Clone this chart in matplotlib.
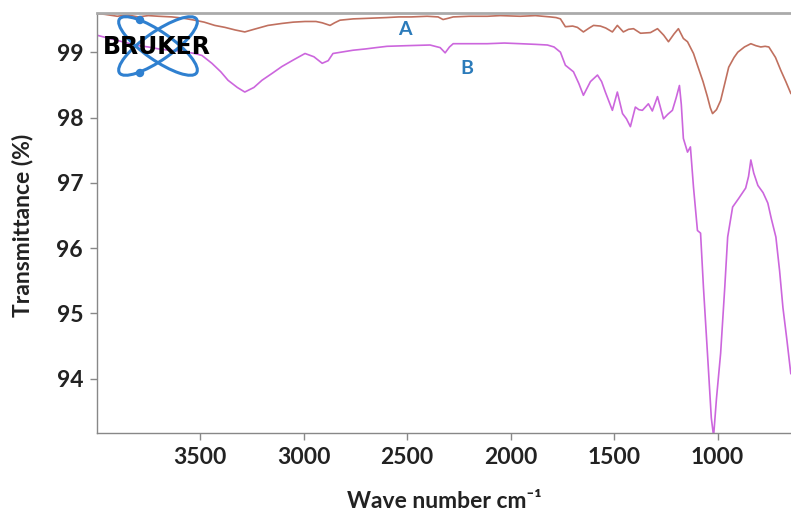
import matplotlib
matplotlib.use("Agg")
import matplotlib.pyplot as plt
from matplotlib.patches import Ellipse, Circle

plt.rcParams['font.family'] = ['Lato', 'DejaVu Sans']

# spectrum A (wave number, transmittance)
wn_a = [3998, 3961, 3900, 3850, 3800, 3750, 3700, 3636, 3580, 3526, 3480, 3429,
        3380, 3330, 3284, 3240, 3172, 3105, 3050, 2993, 2940, 2910, 2872, 2850,
        2824, 2760, 2679, 2600, 2540, 2480, 2403, 2350, 2326, 2300, 2277, 2200,
        2112, 2050, 1953, 1880, 1808, 1780, 1759, 1735, 1700, 1677, 1648, 1620,
        1599, 1566, 1540, 1508, 1484, 1455, 1430, 1406, 1372, 1324, 1290, 1260,
        1237, 1210, 1189, 1165, 1145, 1116, 1097, 1070, 1049, 1035, 1024, 1005,
        985, 965, 946, 920, 902, 870, 839, 815, 791, 770, 752, 720, 694, 670, 646]
t_a = [99.59, 99.58, 99.55, 99.57, 99.54, 99.56, 99.55, 99.54, 99.52, 99.49, 99.46, 99.41,
       99.38, 99.34, 99.31, 99.35, 99.41, 99.44, 99.46, 99.47, 99.47, 99.45, 99.41, 99.45,
       99.49, 99.51, 99.52, 99.53, 99.54, 99.54, 99.55, 99.54, 99.50, 99.52, 99.54, 99.55,
       99.55, 99.56, 99.55, 99.56, 99.54, 99.53, 99.51, 99.39, 99.40, 99.38, 99.31, 99.37,
       99.41, 99.40, 99.37, 99.31, 99.41, 99.31, 99.35, 99.36, 99.29, 99.30, 99.36, 99.26,
       99.16, 99.28, 99.36, 99.21, 99.16, 98.98, 98.80, 98.55, 98.32, 98.15, 98.06, 98.12,
       98.26, 98.52, 98.77, 98.92, 99.00, 99.08, 99.13, 99.10, 99.08, 99.09, 99.08, 98.92,
       98.72, 98.55, 98.37]

# spectrum B
wn_b = [3998, 3950, 3900, 3850, 3800, 3750, 3700, 3650, 3600, 3526, 3491, 3443,
        3400, 3365, 3320, 3284, 3240, 3201, 3150, 3105, 3050, 2993, 2950, 2910,
        2881, 2858, 2800, 2761, 2700, 2650, 2597, 2500, 2389, 2340, 2316, 2295,
        2277, 2200, 2112, 2030, 1953, 1880, 1822, 1790, 1759, 1735, 1696, 1670,
        1648, 1614, 1580, 1560, 1542, 1508, 1484, 1459, 1440, 1421, 1397, 1380,
        1363, 1334, 1315, 1290, 1261, 1240, 1218, 1200, 1184, 1175, 1165, 1145,
        1131, 1116, 1097, 1082, 1068, 1045, 1030, 1019, 1005, 985, 965, 951,
        927, 898, 864, 850, 839, 825, 805, 780, 757, 740, 718, 700, 684, 665, 646]
t_b = [99.26, 99.22, 99.18, 99.14, 99.10, 99.08, 99.05, 99.03, 99.02, 98.98, 98.95, 98.83,
       98.70, 98.57, 98.46, 98.39, 98.46, 98.57, 98.68, 98.78, 98.88, 98.98, 98.93, 98.83,
       98.87, 98.98, 99.01, 99.03, 99.05, 99.07, 99.09, 99.10, 99.11, 99.07, 98.99, 99.08,
       99.13, 99.13, 99.13, 99.14, 99.13, 99.12, 99.11, 99.08, 99.00, 98.80, 98.70, 98.52,
       98.34, 98.55, 98.65, 98.55, 98.39, 98.11, 98.39, 98.06, 97.98, 97.86, 98.16, 98.12,
       98.11, 98.21, 98.10, 98.32, 97.98, 98.05, 98.11, 98.30, 98.49, 98.20, 97.68, 97.47,
       97.55, 96.93, 96.27, 96.23, 95.40, 94.20, 93.40, 93.12, 93.70, 94.39, 95.40, 96.17,
       96.63, 96.76, 96.92, 97.10, 97.35, 97.15, 96.96, 96.85, 96.69, 96.45, 96.17, 95.65,
       95.09, 94.60, 94.08]

x_ticks = [3500, 3000, 2500, 2000, 1500, 1000]
y_ticks = [94, 95, 96, 97, 98, 99]

W, H = 791, 516
fig = plt.figure(figsize=(W / 100, H / 100), dpi=100)
ax = fig.add_axes([97 / W, (H - 433) / H, (W - 97) / W, 420 / H])

ax.plot(wn_a, t_a, color='#c0705f', lw=1.2)
ax.plot(wn_b, t_b, color='#cc66dd', lw=1.2)

ax.text(2509, 99.34, 'A', color='#2b7bba', fontsize=14, fontweight='bold',
        ha='center', va='center')
ax.text(2209, 98.75, 'B', color='#2b7bba', fontsize=14, fontweight='bold',
        ha='center', va='center')

ax.set_xlim(3998, 645)
ax.set_ylim(93.17, 99.6)
ax.set_xticks(x_ticks)
ax.set_yticks(y_ticks)
ax.tick_params(direction='out', length=5, width=1, color='#888888',
               labelsize=16.5, labelcolor='#222222', pad=5)
for lab in ax.get_xticklabels() + ax.get_yticklabels():
    lab.set_fontweight('bold')

for s in ['left', 'bottom']:
    ax.spines[s].set_color('#888888')
    ax.spines[s].set_linewidth(1)
ax.spines['top'].set_color('#aaaaaa')
ax.spines['top'].set_linewidth(2)
ax.spines['right'].set_visible(False)

ax.set_xlabel('Wave number cm⁻¹', fontsize=16.5, fontweight='bold', color='#222222')
ax.xaxis.set_label_coords(0.5, -0.162)
ax.xaxis.label.set_va('center')
ax.set_ylabel('Transmittance (%)', fontsize=16.5, fontweight='bold', color='#222222')
ax.yaxis.set_label_coords(-0.108, 0.495)
ax.yaxis.label.set_va('center')

# Bruker logo, drawn in pixel units
lg = fig.add_axes([95 / W, (H - 82) / H, 125 / W, 72 / H])
lg.set_xlim(95, 220)
lg.set_ylim(82, 10)
lg.axis('off')
for ang in (35, -35):
    lg.add_patch(Ellipse((158, 46), 94, 28, angle=ang, fill=False,
                         ec='#2f80d0', lw=2.2))
for cy in (20, 73):
    lg.add_patch(Circle((140, cy), 3.5, color='#2f80d0'))
lg.text(157, 47, 'BRUKER', fontsize=17, fontweight='heavy', family='DejaVu Sans',
        color='black', ha='center', va='center')

fig.savefig('out.png', dpi=100)
